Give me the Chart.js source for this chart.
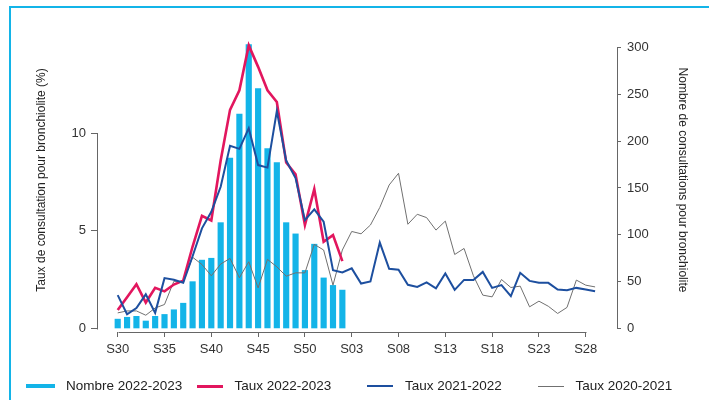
<!DOCTYPE html>
<html>
<head>
<meta charset="utf-8">
<script src="https://cdn.jsdelivr.net/npm/chart.js@4/dist/chart.umd.min.js"></script>
<style>
  body { margin: 0; background: #fff; }
  #wrap { position: relative; width: 709px; height: 400px; overflow: hidden; font-family: 'Liberation Sans', Arial, sans-serif; }
  #frame { position: absolute; left: 9px; top: 6px; width: 900px; height: 600px; border: 2px solid #13b4e8; }
  #box { position: absolute; left: 0; top: 0; width: 709px; height: 400px; }
  .leg { position: absolute; top: 378px; height: 16px; }
  .leg .sym { position: absolute; left: 0; }
  .leg .txt { position: absolute; top: 0; font-size: 13.5px; line-height: 16px; color: #222; white-space: nowrap; }
</style>
</head>
<body>
<div id="wrap">
  <div id="frame"></div>
  <div id="box"><canvas id="chart"></canvas></div>
  <div id="legend"></div>
</div>
<script>
// weeks S30 .. S29
const weeks = ['S30','S31','S32','S33','S34','S35','S36','S37','S38','S39','S40','S41','S42','S43','S44','S45','S46','S47','S48','S49','S50','S51','S52',
  'S01','S02','S03','S04','S05','S06','S07','S08','S09','S10','S11','S12','S13','S14','S15','S16','S17','S18','S19','S20','S21','S22','S23','S24','S25','S26','S27','S28','S29'];
const xTickLabels = ['S30','S35','S40','S45','S50','S03','S08','S13','S18','S23','S28'];
const leftTicks = [0, 5, 10];
const rightTicks = [0, 50, 100, 150, 200, 250, 300];

// Nombre 2022-2023 (S30 -> S02)
const nombre2223 = [10, 12, 13, 8, 13, 15, 20, 27, 50, 73, 75, 113, 182, 229, 303, 256, 192, 177, 113, 101, 62, 90, 54, 46, 41];
// Taux 2022-2023 (S30 -> S02)
const taux2223 = [0.95, 1.6, 2.27, 1.33, 2.08, 1.9, 2.25, 2.45, 4.2, 5.77, 5.53, 8.6, 11.2, 12.2, 14.5, 13.4, 12.2, 11.6, 8.5, 7.9, 5.3, 7.14, 4.44, 4.78, 3.45];
// Taux 2021-2022
const taux2122 = [1.71, 0.73, 1.05, 1.75, 0.8, 2.58, 2.5, 2.34, 3.7, 5.13, 5.98, 7.26, 9.36, 9.2, 10.26, 8.37, 8.24, 11.14, 8.6, 7.7, 5.55, 6.1, 5.47,
  2.99, 2.87, 3.08, 2.3, 2.41, 4.4, 3.06, 3.01, 2.24, 2.13, 2.36, 2.06, 2.82, 1.98, 2.49, 2.48, 2.9, 2.08, 2.22, 1.66, 2.85, 2.44, 2.34, 2.34, 2.0, 1.96, 2.08, 2.0, 1.91];
// Taux 2020-2021
const taux2021 = [0.8, 0.9, 0.9, 0.68, 1.05, 1.23, 2.42, 2.4, 3.65, 3.28, 2.7, 3.3, 3.59, 2.6, 3.42, 2.08, 3.54, 3.16, 2.68, 2.85, 2.85, 4.31, 4.02,
  2.22, 4.02, 4.97, 4.85, 5.3, 6.2, 7.35, 7.95, 5.34, 5.85, 5.68, 5.04, 5.5, 3.79, 4.1, 2.7, 1.71, 1.62, 2.51, 2.1, 2.17, 1.11, 1.4, 1.14, 0.77, 1.08, 2.48, 2.22, 2.13];

const seriesNames = ['Nombre 2022-2023', 'Taux 2022-2023', 'Taux 2021-2022', 'Taux 2020-2021'];
const colors = ['#13b4e8', '#e2165e', '#1d4f9f', '#707070'];

const toXY = arr => arr.map((v, i) => ({ x: i, y: v }));
const tickFont = { family: "'Liberation Sans', Arial, sans-serif", size: 13 };
const titleFont = { family: "'Liberation Sans', Arial, sans-serif", size: 12 };

// draws the partial axis lines (left 0-10, right 0-300, bottom S30-S28)
const axisLines = {
  id: 'axisLines',
  afterDraw(chart) {
    const { ctx, scales } = chart;
    const x = scales.x, yl = scales.yTaux, yr = scales.yNombre;
    ctx.save();
    ctx.strokeStyle = '#666';
    ctx.lineWidth = 1;
    ctx.beginPath();
    const lx = Math.round(yl.right) - 0.5;
    ctx.moveTo(lx, Math.round(yl.getPixelForValue(leftTicks[0])) + 0.5);
    ctx.lineTo(lx, Math.round(yl.getPixelForValue(leftTicks[leftTicks.length - 1])) + 0.5);
    const rx = Math.round(yr.left) + 0.5;
    ctx.moveTo(rx, Math.round(yr.getPixelForValue(rightTicks[0])) + 0.5);
    ctx.lineTo(rx, Math.round(yr.getPixelForValue(rightTicks[rightTicks.length - 1])) + 0.5);
    const by = Math.round(x.top) + 0.5;
    ctx.moveTo(Math.round(x.getPixelForValue(weeks.indexOf(xTickLabels[0]))) + 0.5, by);
    ctx.lineTo(Math.round(x.getPixelForValue(weeks.indexOf(xTickLabels[xTickLabels.length - 1]))) + 0.5, by);
    ctx.stroke();
    ctx.restore();
  }
};

let ctx = document.getElementById('chart').getContext('2d');
let chart = new Chart(ctx, {
  type: 'bar',
  data: {
    datasets: [{
      type: 'line',
      label: seriesNames[2],
      data: toXY(taux2122),
      yAxisID: 'yTaux',
      borderColor: colors[2],
      borderWidth: 2,
      pointRadius: 0,
      tension: 0,
      order: 1,
    }, {
      type: 'line',
      label: seriesNames[1],
      data: toXY(taux2223),
      yAxisID: 'yTaux',
      borderColor: colors[1],
      borderWidth: 2.6,
      pointRadius: 0,
      tension: 0,
      order: 2,
    }, {
      type: 'line',
      label: seriesNames[3],
      data: toXY(taux2021),
      yAxisID: 'yTaux',
      borderColor: colors[3],
      borderWidth: 1,
      pointRadius: 0,
      tension: 0,
      order: 3,
    }, {
      type: 'bar',
      label: seriesNames[0],
      data: toXY(nombre2223),
      yAxisID: 'yNombre',
      backgroundColor: colors[0],
      barThickness: 5.5,
      borderWidth: 0,
      order: 4,
    }],
  },
  options: {
    responsive: true,
    maintainAspectRatio: false,
    animation: false,
    layout: { padding: { top: 28, left: 0, right: 0, bottom: 0 } },
    plugins: {
      legend: { display: false },
      tooltip: { enabled: false },
    },
    scales: {
      x: {
        type: 'linear',
        offset: false,
        min: -2.105,
        max: 53.34,
        afterFit: s => { s.height = 68; },
        afterBuildTicks: s => { s.ticks = xTickLabels.map(l => ({ value: weeks.indexOf(l) })); },
        border: { display: false },
        grid: { offset: false, drawOnChartArea: false, tickLength: 5, color: '#666' },
        ticks: { font: tickFont, color: '#333', padding: 5, maxRotation: 0, autoSkip: false, callback: v => weeks[v] },
      },
      yTaux: {
        type: 'linear',
        position: 'left',
        min: -0.179,
        max: 15.39,
        afterFit: s => { s.width = 98; },
        afterBuildTicks: s => { s.ticks = leftTicks.map(v => ({ value: v })); },
        border: { display: false },
        grid: { drawOnChartArea: false, tickLength: 7, color: '#666' },
        ticks: { font: tickFont, color: '#333', padding: 5 },
        title: { display: true, text: 'Taux de consultation pour bronchiolite (%)', font: titleFont, color: '#222', padding: { top: 34 } },
      },
      yNombre: {
        type: 'linear',
        position: 'right',
        min: -3.74,
        max: 320.8,
        afterFit: s => { s.width = 92; },
        afterBuildTicks: s => { s.ticks = rightTicks.map(v => ({ value: v })); },
        border: { display: false },
        grid: { drawOnChartArea: false, tickLength: 4, color: '#666' },
        ticks: { font: tickFont, color: '#333', padding: 6 },
        title: { display: true, text: 'Nombre de consultations pour bronchiolite', font: titleFont, color: '#222', padding: { top: 19 } },
      },
    },
  },
  plugins: [axisLines],
});

// legend row, one slot every ~170px
const symHeights = [4, 3, 2, 1];
const legend = document.getElementById('legend');
seriesNames.forEach((name, i) => {
  const item = document.createElement('div');
  item.className = 'leg';
  item.style.left = (26 + i * 170.5) + 'px';
  const sym = document.createElement('div');
  sym.className = 'sym';
  sym.style.width = (i === 0 ? 29 : 26) + 'px';
  sym.style.height = symHeights[i] + 'px';
  sym.style.top = (8 - symHeights[i] / 2) + 'px';
  sym.style.background = colors[i];
  const txt = document.createElement('div');
  txt.className = 'txt';
  txt.style.left = (i === 0 ? 40 : 38) + 'px';
  txt.textContent = name;
  item.appendChild(sym);
  item.appendChild(txt);
  legend.appendChild(item);
});
</script>
</body>
</html>
